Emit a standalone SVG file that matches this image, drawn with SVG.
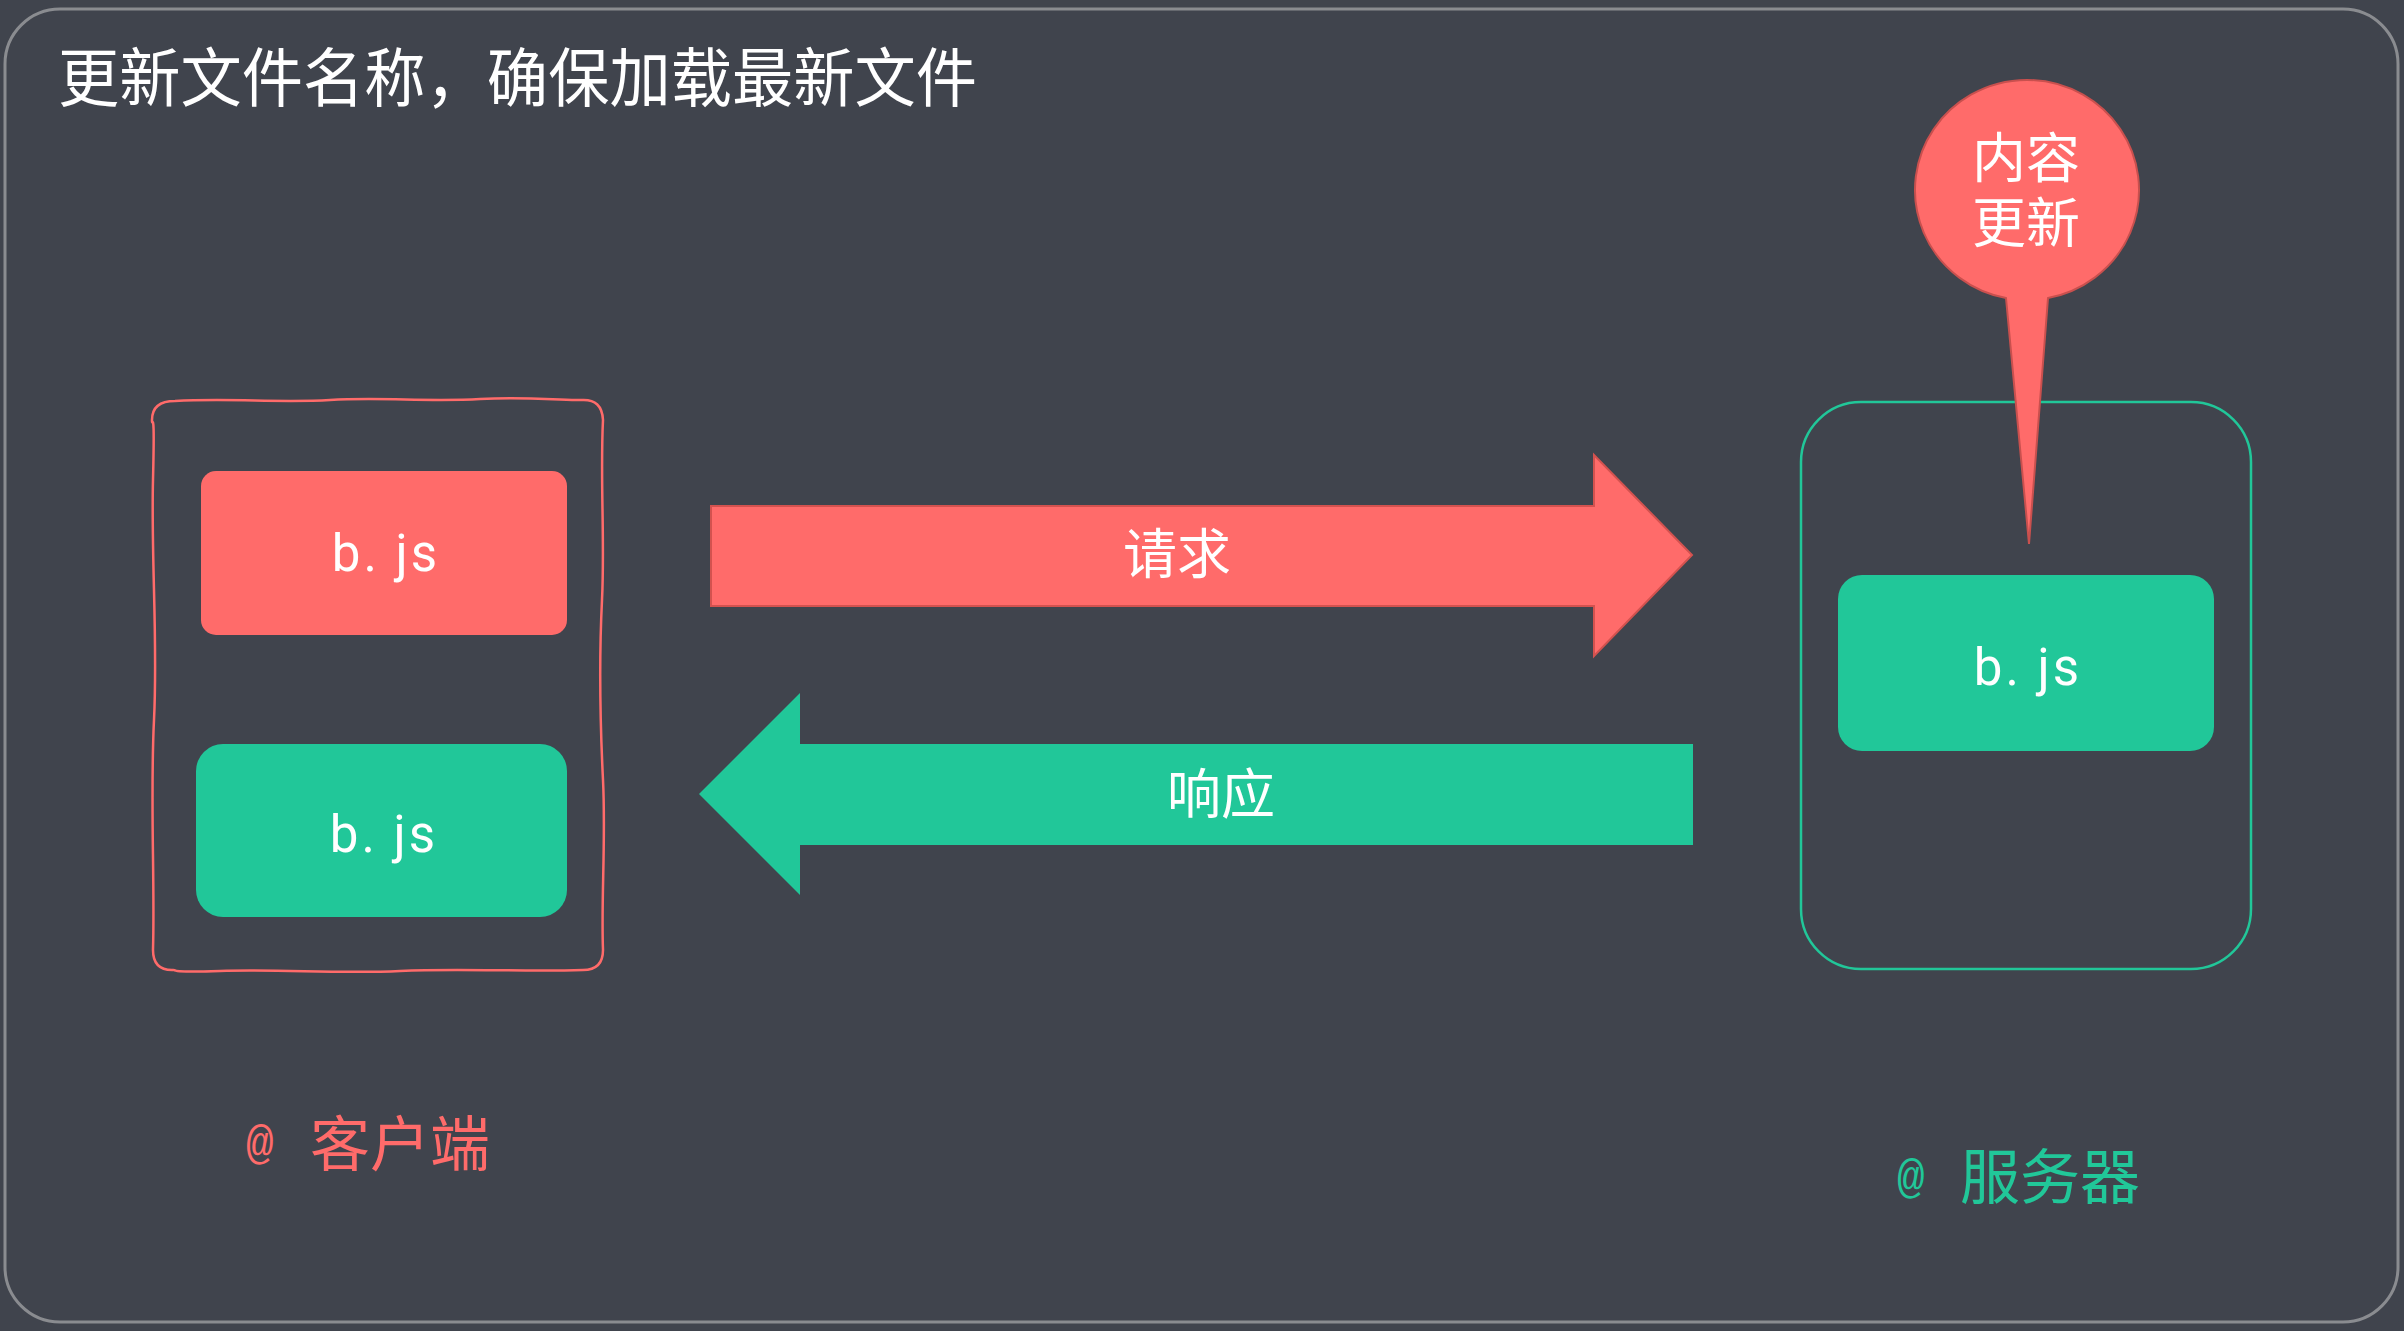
<svg xmlns="http://www.w3.org/2000/svg" width="2404" height="1331" viewBox="0 0 2404 1331">
  <style>
    .cjk { font-family: "Noto Sans CJK SC", "Noto Sans", sans-serif; }
    .white { fill: #ffffff; }
    .red-fill { fill: #ff6b6a; }
    .green-fill { fill: #21c799; }
    .file { font-family: Roboto, "Noto Sans", sans-serif; font-size: 51px; fill: #ffffff; text-anchor: middle; letter-spacing: 3px; }
    .label { font-family: "Noto Sans CJK SC", sans-serif; font-size: 60px; text-anchor: middle; }
    .at { font-family: "Liberation Mono", monospace; font-size: 46px; }
  </style>

  <!-- page -->
  <rect x="0" y="0" width="2404" height="1331" fill="#40444d"/>
  <rect x="5" y="9" width="2393" height="1313" rx="55" ry="55" fill="#40444d" stroke="#8a8c90" stroke-width="3"/>

  <text class="cjk white" x="58" y="101" font-size="64" textLength="919" lengthAdjust="spacingAndGlyphs">更新文件名称，确保加载最新文件</text>

  <!-- client -->
  <g id="client">
    <path d="M 175 401 C 230 398, 280 403, 330 400 S 430 402, 480 399 S 560 401, 582 400 Q 602 399, 603 420 C 600 480, 605 540, 602 600 S 600 720, 603 780 S 601 900, 603 950 Q 603 970, 583 970 C 520 972, 460 968, 400 971 S 280 969, 220 971 S 180 969, 172 970 Q 153 970, 153 950 C 155 880, 150 800, 154 720 S 151 560, 153 480 S 152 430, 152 420 Q 152 401, 175 401 Z" fill="none" stroke="#ff6b6a" stroke-width="2.5"/>
    <text class="at" x="246" y="1158" fill="#ff6b6a">@</text>
    <text class="label" x="400" y="1166" fill="#ff6b6a">客户端</text>
  </g>

  <g id="client-old-file">
    <rect x="201" y="471" width="366" height="164" rx="15" class="red-fill"/>
    <text class="file" x="386" y="571">b. js</text>
  </g>

  <g id="client-new-file">
    <rect x="196" y="744" width="371" height="173" rx="27" class="green-fill"/>
    <text class="file" x="384" y="852">b. js</text>
  </g>

  <!-- server -->
  <g id="server">
    <rect x="1801" y="402" width="450" height="567" rx="60" fill="none" stroke="#21c799" stroke-width="2.5"/>
    <text class="at" x="1897" y="1192" fill="#21c799">@</text>
    <text class="label" x="2050" y="1199" fill="#21c799">服务器</text>
  </g>

  <g id="server-file">
    <rect x="1838" y="575" width="376" height="176" rx="24" class="green-fill"/>
    <text class="file" x="2028" y="685">b. js</text>
  </g>

  <!-- callout -->
  <g id="content-updated">
    <path d="M 2006 298 A 112 110 0 1 1 2048 298 L 2029 544 Z" class="red-fill" stroke="#c9504e" stroke-width="2"/>
    <text class="cjk white" font-size="54" text-anchor="middle"><tspan x="2026" y="178">内容</tspan><tspan x="2026" y="243">更新</tspan></text>
  </g>

  <!-- request / response arrows -->
  <g id="connectors">
    <g id="request">
      <polygon points="711,506 1594,506 1594,455 1692,555 1594,656 1594,606 711,606" class="red-fill" stroke="#d3524f" stroke-width="2"/>
      <text class="cjk white" font-size="54" text-anchor="middle" x="1177" y="574">请求</text>
    </g>
    <g id="response">
      <polygon points="1693,744 800,744 800,693 699,794 800,895 800,845 1693,845" class="green-fill"/>
      <text class="cjk white" font-size="54" text-anchor="middle" x="1221" y="814">响应</text>
    </g>
  </g>
</svg>
